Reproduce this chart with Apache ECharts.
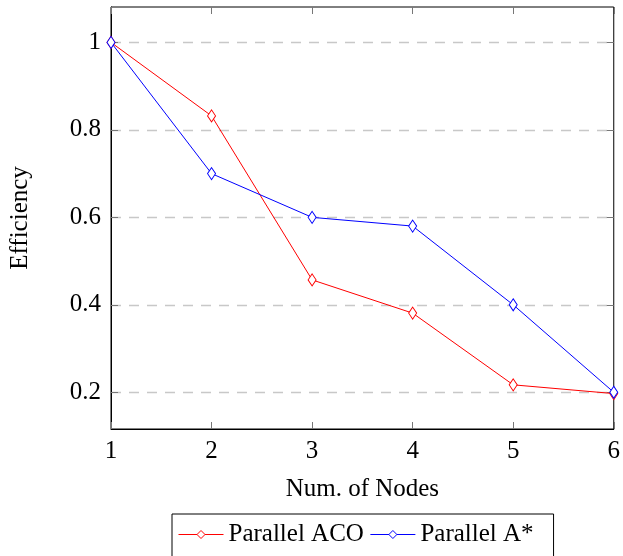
<!DOCTYPE html>
<html>
<head>
<meta charset="utf-8">
<script src="https://cdn.jsdelivr.net/npm/echarts@6/dist/echarts.min.js"></script>
<style>
  html, body { margin: 0; padding: 0; background: #fff; }
  #chart { width: 623px; height: 556px; }
</style>
</head>
<body>
<div id="chart"></div>
<script>
// nodes on x axis
const nodes = [1, 2, 3, 4, 5, 6];
// efficiency values
const acoValues = [1, 0.832, 0.457, 0.381, 0.217, 0.197];
const astarValues = [1, 0.7, 0.6, 0.58, 0.4, 0.2];
// y tick labels
const yTicks = [0.2, 0.4, 0.6, 0.8, 1];

const font = "Liberation Serif";
const chart = echarts.init(document.getElementById("chart"));

const pairs = (vals) => nodes.map((n, i) => [n, vals[i]]);

const tickStyle = { show: true, inside: true, length: 7, lineStyle: { color: "#777", width: 1 } };

const option = {
  animation: false,
  backgroundColor: "#fff",
  textStyle: { fontFamily: font },
  grid: {
    left: 110, right: 4, top: 7, bottom: 127,
    show: true, borderColor: "#000", borderWidth: 1,
  },
  xAxis: [
    {
      type: "value", min: 1, max: 6, interval: 1,
      name: "Num. of Nodes", nameLocation: "middle", nameGap: 48,
      nameTextStyle: { fontFamily: font, fontSize: 25, color: "#000" },
      axisLine: { show: true, lineStyle: { color: "#000" } },
      axisTick: tickStyle,
      axisLabel: { fontFamily: font, fontSize: 25, color: "#000", margin: 10 },
      splitLine: { show: false },
    },
    {
      type: "value", min: 1, max: 6, interval: 1, position: "top",
      axisLine: { show: false },
      axisTick: tickStyle,
      axisLabel: { show: false },
      splitLine: { show: false },
    },
  ],
  yAxis: [
    {
      type: "value", min: 0.116, max: 1.081,
      name: "Efficiency", nameLocation: "middle", nameGap: 78,
      nameTextStyle: { fontFamily: font, fontSize: 25, color: "#000" },
      axisLine: { show: true, lineStyle: { color: "#000" } },
      axisTick: Object.assign({ customValues: yTicks }, tickStyle),
      axisLabel: {
        customValues: yTicks, fontFamily: font, fontSize: 25, color: "#000", margin: 10,
        formatter: (v) => String(Math.round(v * 10) / 10),
      },
      splitLine: { show: true, lineStyle: { color: "#c8c8c8", type: [10, 8], width: 1.3 } },
    },
    {
      type: "value", min: 0.116, max: 1.081, position: "right",
      axisLine: { show: false },
      axisTick: Object.assign({ customValues: yTicks }, tickStyle),
      axisLabel: { show: false },
      splitLine: { show: false },
    },
  ],
  legend: {
    top: 514, left: 172,
    orient: "horizontal",
    itemWidth: 45, itemHeight: 10, itemGap: 6,
    padding: [8, 20, 12, 6],
    borderColor: "#000", borderWidth: 1,
    lineStyle: { width: 1 },
    itemStyle: { borderWidth: 1 },
    textStyle: { fontFamily: font, fontSize: 25, color: "#000" },
    data: ["Parallel ACO", "Parallel A*"],
  },
  series: [
    {
      name: "Parallel ACO", type: "line",
      data: pairs(acoValues),
      symbol: "diamond", symbolSize: [8, 12],
      itemStyle: { color: "#fff", borderColor: "#ff0000", borderWidth: 1 },
      lineStyle: { color: "#ff0000", width: 1 },
      z: 3,
    },
    {
      name: "Parallel A*", type: "line",
      data: pairs(astarValues),
      symbol: "diamond", symbolSize: [8, 12],
      itemStyle: { color: "#fff", borderColor: "#0000ff", borderWidth: 1 },
      lineStyle: { color: "#0000ff", width: 1 },
      z: 4,
    },
  ],
};
chart.setOption(option);
</script>
</body>
</html>
